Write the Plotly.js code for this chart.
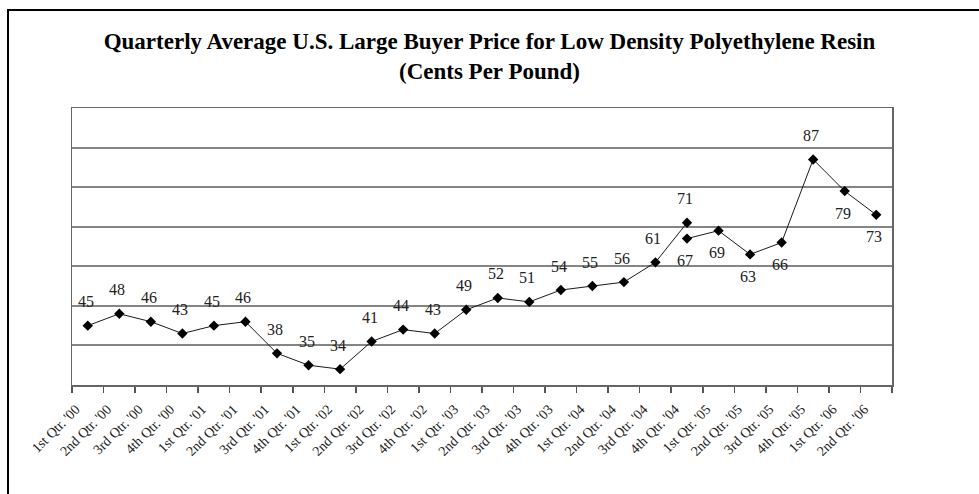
<!DOCTYPE html>
<html>
<head>
<meta charset="utf-8">
<script src="https://cdn.plot.ly/plotly-3.0.1.min.js"></script>
<style>
  html, body { margin: 0; padding: 0; background: #fff; overflow: hidden; }
  #chart { width: 979px; height: 494px; }
  #frame { position: absolute; left: 7px; top: 9px; width: 990px; height: 500px;
           border-top: 2px solid #000; border-left: 2px solid #000; pointer-events: none; }
</style>
</head>
<body>
<div id="chart"></div>
<div id="frame"></div>
<script>
// Tick labels (categories)
const quarters = [
  "1st Qtr. '00", "2nd Qtr. '00", "3rd Qtr. '00", "4th Qtr. '00",
  "1st Qtr. '01", "2nd Qtr. '01", "3rd Qtr. '01", "4th Qtr. '01",
  "1st Qtr. '02", "2nd Qtr. '02", "3rd Qtr. '02", "4th Qtr. '02",
  "1st Qtr. '03", "2nd Qtr. '03", "3rd Qtr. '03", "4th Qtr. '03",
  "1st Qtr. '04", "2nd Qtr. '04", "3rd Qtr. '04", "4th Qtr. '04",
  "1st Qtr. '05", "2nd Qtr. '05", "3rd Qtr. '05", "4th Qtr. '05",
  "1st Qtr. '06", "2nd Qtr. '06"
];

// Series 1: 1st Qtr '00 .. 4th Qtr '04
const series1Cats = quarters.slice(0, 20);
const series1Vals = [45, 48, 46, 43, 45, 46, 38, 35, 34, 41, 44, 43, 49, 52, 51, 54, 55, 56, 61, 71];
const series1LabelSide = series1Vals.map(() => "above");

// Series 2: 4th Qtr '04 .. 2nd Qtr '06 (separate segment)
const series2Cats = quarters.slice(19, 26);
const series2Vals = [67, 69, 63, 66, 87, 79, 73];
const series2LabelSide = ["below", "below", "below", "below", "above", "below", "below"];

const lineStyle = { color: "#1a1a1a", width: 1 };
const markerStyle = { symbol: "diamond", size: 8, color: "#000" };

const traces = [
  { x: series1Cats, y: series1Vals, type: "scatter", mode: "lines+markers",
    line: lineStyle, marker: markerStyle, hoverinfo: "x+y", showlegend: false },
  { x: series2Cats, y: series2Vals, type: "scatter", mode: "lines+markers",
    line: lineStyle, marker: markerStyle, hoverinfo: "x+y", showlegend: false }
];

function labelAnns(cats, vals, sides) {
  return vals.map((v, i) => ({
    x: cats[i], y: v, xref: "x", yref: "y", text: String(v), showarrow: false,
    xanchor: "center", yanchor: "middle",
    xshift: -2, yshift: sides[i] === "above" ? 24 : -22,
    font: { family: "Liberation Serif, Times New Roman, serif", size: 16, color: "#222" }
  }));
}

const annotations = labelAnns(series1Cats, series1Vals, series1LabelSide)
  .concat(labelAnns(series2Cats, series2Vals, series2LabelSide));

const layout = {
  width: 979, height: 494,
  margin: { l: 72, r: 87, t: 108, b: 109 },
  paper_bgcolor: "#fff", plot_bgcolor: "#fff",
  showlegend: false,
  title: {
    text: "<b>Quarterly Average U.S. Large Buyer Price for Low Density Polyethylene Resin</b><br><b>(Cents Per Pound)</b>",
    x: 0.5, xanchor: "center", xref: "container",
    y: 1 - 49 / 494, yref: "container", yanchor: "top",
    font: { family: "Liberation Serif, Times New Roman, serif", size: 23, color: "#000" }
  },
  xaxis: {
    type: "category", categoryorder: "array", categoryarray: quarters,
    range: [-0.5, 25.5], tickson: "boundaries",
    ticks: "outside", ticklen: 6, tickwidth: 1.5, tickcolor: "#555",
    showline: true, linecolor: "#666", linewidth: 1.5, mirror: true,
    showgrid: false, zeroline: false,
    tickangle: -45, ticklabelstandoff: 9, ticklabelshift: -12,
    tickfont: { family: "Liberation Serif, Times New Roman, serif", size: 14, color: "#222" }
  },
  yaxis: {
    range: [30, 100], dtick: 10, tick0: 30,
    showticklabels: false, ticks: "",
    showgrid: true, gridcolor: "#858585", gridwidth: 2,
    showline: true, linecolor: "#666", linewidth: 1.5, mirror: true,
    zeroline: false, fixedrange: true
  },
  annotations: annotations
};

Plotly.newPlot("chart", traces, layout, { displayModeBar: false, staticPlot: true });
</script>
</body>
</html>
